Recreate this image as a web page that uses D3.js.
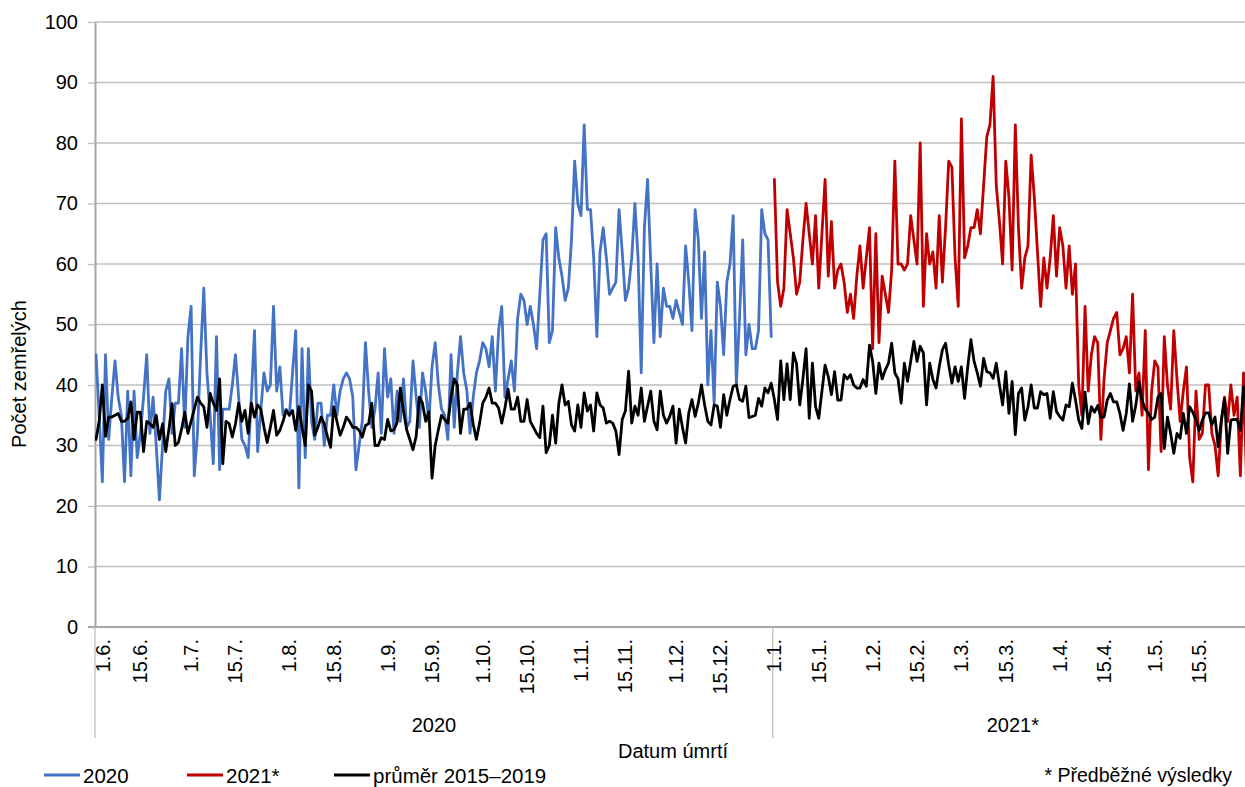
<!DOCTYPE html>
<html><head><meta charset="utf-8">
<script src="https://cdn.jsdelivr.net/npm/d3@7"></script>
<style>
body{margin:0;background:#fff}
text{font-family:"Liberation Sans",Arial,Helvetica,sans-serif;fill:#000}
</style>
</head><body>
<svg id="c" width="1245" height="787"></svg>
<script>
// ---------------- data ----------------
const startDate = "2020-06-01";
const start2021 = "2021-01-01";
const yTicks = [0,10,20,30,40,50,60,70,80,90,100];
const xTickDates = ["2020-06-01","2020-06-15","2020-07-01","2020-07-15","2020-08-01","2020-08-15","2020-09-01","2020-09-15","2020-10-01","2020-10-15","2020-11-01","2020-11-15","2020-12-01","2020-12-15","2021-01-01","2021-01-15","2021-02-01","2021-02-15","2021-03-01","2021-03-15","2021-04-01","2021-04-15","2021-05-01","2021-05-15"];
const xTickLabels = ["1.6.","15.6.","1.7.","15.7.","1.8.","15.8.","1.9.","15.9.","1.10.","15.10.","1.11.","15.11.","1.12.","15.12.","1.1.","15.1.","1.2.","15.2.","1.3.","15.3.","1.4.","15.4.","1.5.","15.5."];
const groupLabels = ["2020","2021*"];
const groupStarts = ["2020-06-01","2021-01-01"];
const groupEnds = ["2021-01-01","2021-06-01"];
const seriesNames = ["2020","2021*","průměr 2015–2019"];

// daily deaths 1.6.2020 – 31.12.2020
const deaths2020 = [
45,35,24,45,31,38,44,38,35,24,
39,25,39,28,32,38,45,32,38,30,
21,30,39,41,32,37,37,46,33,48,
53,25,32,45,56,42,35,27,48,26,
36,36,36,40,45,38,31,30,28,38,
49,29,36,42,39,40,53,39,43,35,
36,35,42,49,23,46,28,46,34,31,
37,37,30,35,35,40,35,39,41,42,
41,38,26,30,34,47,39,33,36,42,
32,46,38,41,32,39,34,41,33,34,
44,38,33,42,39,34,43,47,40,36,
35,31,45,33,42,48,42,39,32,38,
42,44,47,46,43,48,39,49,53,38,
41,44,39,51,55,54,50,53,50,46,
55,64,65,47,49,66,61,58,54,56,
64,77,70,68,83,69,69,61,48,62,
66,61,55,56,57,69,62,54,56,61,
70,61,42,66,74,60,47,60,48,56,
53,53,51,54,52,50,63,57,49,69,
64,51,62,40,49,37,57,53,45,57,
60,68,40,51,64,45,50,46,46,49,
69,65,64,48];

// daily deaths 1.1.2021 – 31.5.2021 (preliminary)
const deaths2021 = [
74,57,53,56,69,65,61,55,57,64,
70,65,60,68,56,65,74,58,67,56,
59,60,57,52,55,51,58,63,56,61,
66,46,65,47,58,55,52,59,77,60,
60,59,60,68,64,60,80,53,65,60,
62,56,68,57,66,77,76,61,53,84,
61,63,66,66,69,65,73,81,83,91,
73,67,60,77,71,59,83,66,56,61,
63,78,71,62,53,61,56,61,68,58,
66,63,56,63,55,60,40,35,53,39,
45,48,47,31,41,47,49,51,52,45,
46,48,42,55,39,42,35,49,26,39,
44,43,29,48,40,36,49,41,34,39,
43,28,24,39,31,32,40,40,32,30,
25,34,38,34,40,35,38,25,42,23,
30];

// average 2015–2019, 1.6. – 31.5.
const avg2015_2019 = [
31,34,40,31.5,34.7,34.7,35,35.3,34,34,
34.5,37.2,31,35.5,35.5,29,34,33.6,33,35,
31,33.6,29,32.7,36.9,30,30.5,32.7,35.5,32,
34,36,38,37,36.4,33,38.6,37,35.8,41,
27,34,33.6,31.4,33.6,37,34,35.8,32,37,
34.7,36.7,36,33,30.5,33,35.8,31.7,32.5,34,
35.8,35,35.8,32.5,36.4,33,30,40,39,31.7,
33,34.7,33.6,31.5,29.7,36.4,34,31.7,33,34.7,
34,33,33,32.5,31.4,33.3,33.6,37,30,30,
31.3,31,34.3,32.4,32.6,33.8,39.5,35.7,32.6,31,
29.3,31.5,38,37,34,35.6,24.6,30,32.6,35,
34.3,33.7,38,41,40,32,36,36,37,33.5,
31,33.7,37,38,39.5,37,37,36.2,33.7,36.2,
39.3,36,36,38,34,34,37.6,34,33,32,
31.3,36.5,28.8,30,35,30.4,37,40,36.7,37.3,
33.4,32.4,36.7,33,38.7,35.7,36.7,32.4,38.7,36.7,
36.2,33.7,34,33.7,32.4,28.5,34.3,35.7,42.3,33.7,
36.5,35,39.5,34,36.5,39,34,32.6,39,35,
33.7,34.8,36.5,30.4,36,33,30.4,35.4,37.6,34.8,
37,40,36.7,34,33.4,36.7,36.5,33,38.4,35,
37.6,39.8,40,37.6,37.3,39.8,34.6,34.8,35,37.8,
36.5,39.5,38.7,40.3,37.6,34.3,44,37.6,43.5,37.6,
45.3,43.5,36.7,41,46,34.5,43.6,36.4,34.5,39,
43.3,41.4,38.4,42.2,37.5,37.5,41.7,41,41.7,40,
39.5,39.5,40.9,39.8,46.6,43.9,38.6,43.6,41,42.5,
43.6,46.9,42,41,37,43.6,40.6,43.9,47.2,43.9,
46.4,45.3,36.7,43.6,40.9,39.5,43,45.8,46.9,43.3,
40.3,43,40.6,43,37.8,43,47.5,43.9,42,39.8,
44.4,42.2,42,41.1,43.6,40,36.7,42.2,35.3,40.6,
31.8,38.6,39.5,34.2,36.4,40,36.2,36.2,38.9,38.4,
38.6,34.5,38.9,35.6,34.8,34.2,36.7,36.4,40.3,37.5,
34.2,32.8,38.8,33.6,36.4,35.5,36.6,34.7,34.7,37.5,
38.6,37.2,37.2,35.3,32.5,35.3,40.2,34,36.6,40.5,
37.5,36,35.3,34.3,34.7,38,38.6,29.5,34.7,32,
28.7,32,31.2,35.3,32,36.4,35.5,34.2,32.5,34.2,
35.4,35.4,33.4,34.7,29.8,34.2,37.7,28.7,34.2,34.3,
34.3,32.5,39.7,36,34];

// ---------------- chart ----------------
const FONT = 20;
const colors = ["#4472C4","#C00000","#000000"];
const parse = d3.utcParse("%Y-%m-%d");
const t0 = parse(startDate), t2021 = parse(start2021);
const dayStep = 3.17;
const x = d3.scaleUtc().domain([t0, d3.utcDay.offset(t0, 364)]).range([96, 96 + 364*dayStep]);
const y = d3.scaleLinear().domain([0,100]).range([627,22]);
const svg = d3.select("#c");
const plotL = 95, plotR = 1245;

// gridlines
svg.append("g").selectAll("line").data(yTicks.filter(v=>v>0)).join("line")
  .attr("x1", plotL).attr("x2", plotR)
  .attr("y1", d=>y(d)).attr("y2", d=>y(d))
  .attr("stroke", "#bfbfbf").attr("stroke-width", 1.3);

// y axis
const ya = svg.append("g").attr("transform", `translate(${plotL},0)`)
  .call(d3.axisLeft(y).tickValues(yTicks).tickSize(7).tickPadding(10).tickSizeOuter(0));
ya.select(".domain").attr("stroke", "#a6a6a6").attr("stroke-width", 2);
ya.selectAll(".tick line").attr("stroke", "#bfbfbf").attr("stroke-width", 1.3);
ya.selectAll(".tick text").attr("font-size", FONT).attr("font-family", null).attr("fill", "#000");

// x axis baseline
svg.append("line").attr("x1", plotL - 7).attr("x2", plotR).attr("y1", y(0)).attr("y2", y(0))
  .attr("stroke", "#a6a6a6").attr("stroke-width", 2);

// group separators
const sepX = d => Math.max(plotL, x(parse(d)) - dayStep/2);
svg.append("g").selectAll("line").data(groupStarts).join("line")
  .attr("x1", d=>sepX(d)).attr("x2", d=>sepX(d))
  .attr("y1", y(0)).attr("y2", 738)
  .attr("stroke", "#bfbfbf").attr("stroke-width", 1.3);

// x tick labels
svg.append("g").selectAll("text").data(xTickDates).join("text")
  .attr("transform", (d,i) => `translate(${Math.max(x(parse(d)), 103)},${y(0)+12}) rotate(-90)`)
  .attr("text-anchor", "end").attr("dominant-baseline", "central")
  .attr("font-size", FONT)
  .text((d,i) => xTickLabels[i]);

// group labels
svg.append("g").selectAll("text").data(groupLabels).join("text")
  .attr("x", (d,i) => (sepX(groupStarts[i]) + Math.min(plotR, x(d3.utcDay.offset(parse(groupEnds[i]), -1)) + dayStep/2)) / 2 + (i ? 4 : 0))
  .attr("y", 725).attr("dominant-baseline", "central").attr("text-anchor", "middle")
  .attr("font-size", FONT).text(d=>d);

// axis titles
svg.append("text").attr("x", 673).attr("y", 751).attr("text-anchor", "middle")
  .attr("dominant-baseline", "central").attr("font-size", FONT).text("Datum úmrtí");
svg.append("text").attr("transform", "translate(19,374) rotate(-90)").attr("text-anchor", "middle")
  .attr("dominant-baseline", "central").attr("font-size", FONT).text("Počet zemřelých");

// lines
const line = d3.line().x(d => x(d.date)).y(d => y(d.v));
const mk = (arr, t) => arr.map((v,i) => ({date: d3.utcDay.offset(t, i), v}));
const seriesData = [mk(deaths2020, t0), mk(deaths2021, t2021), mk(avg2015_2019, t0)];
svg.append("defs").append("clipPath").attr("id","clip").append("rect")
  .attr("x", plotL).attr("y", 0).attr("width", plotR - plotL).attr("height", 640);
const lg = svg.append("g").attr("clip-path", "url(#clip)");
lg.selectAll("path").data(seriesData).join("path")
  .attr("d", line).attr("fill", "none")
  .attr("stroke", (d,i) => colors[i]).attr("stroke-width", 2.8)
  .attr("stroke-linejoin", "round").attr("stroke-linecap", "round");

// legend
const legX = [44, 187, 334];
const leg = svg.append("g").selectAll("g").data(seriesNames).join("g")
  .attr("transform", (d,i) => `translate(${legX[i]},775)`);
leg.append("line").attr("x1", 0).attr("x2", 36).attr("y1", 0).attr("y2", 0)
  .attr("stroke", (d,i)=>colors[i]).attr("stroke-width", 3);
leg.append("text").attr("x", 39).attr("y", 0).attr("dominant-baseline", "central")
  .attr("font-size", 20.5).text(d=>d);
svg.append("text").attr("x", 1232).attr("y", 775).attr("text-anchor", "end")
  .attr("dominant-baseline", "central").attr("font-size", 19.5).text("* Předběžné výsledky");
</script>
</body></html>
